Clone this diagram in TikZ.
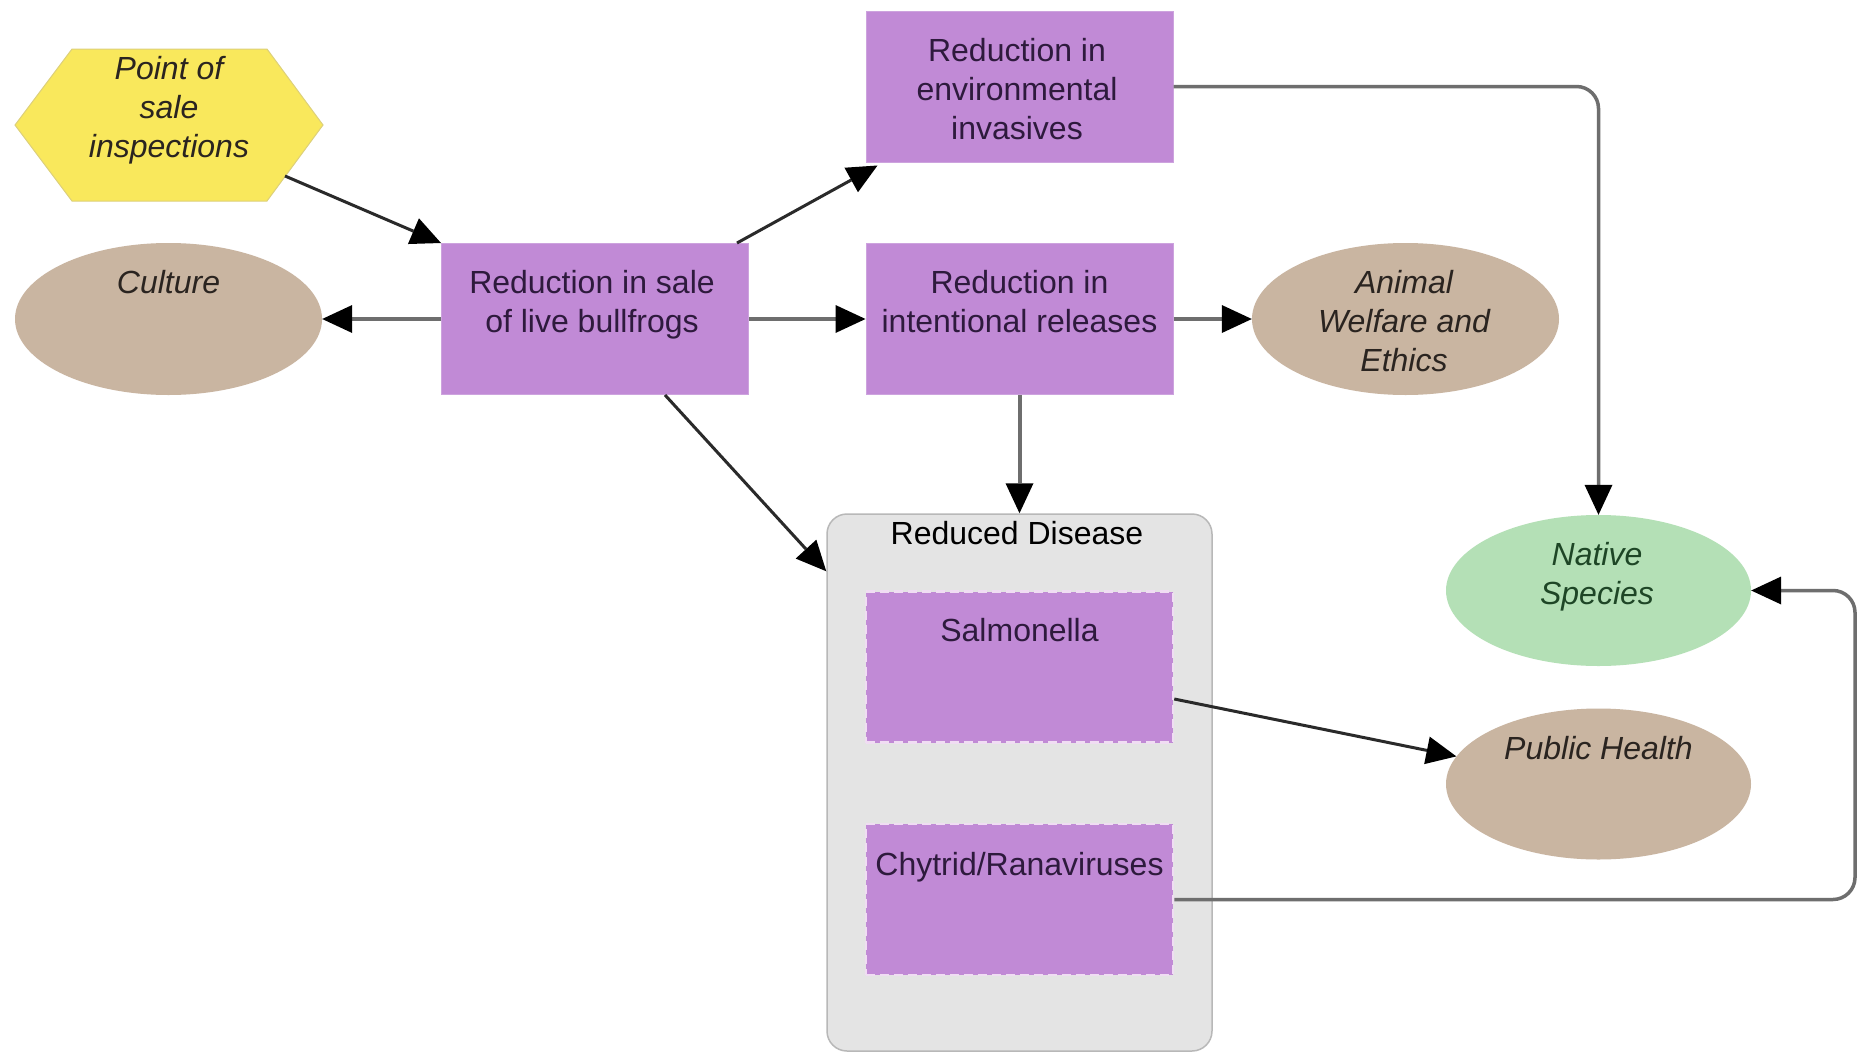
\documentclass[tikz,border=0pt]{standalone}
\usepackage{fontspec}
\setmainfont{Liberation Sans}
\usetikzlibrary{shapes.geometric,arrows.meta,calc}
\definecolor{boxpurple}{HTML}{C18AD6}
\definecolor{boxborder}{HTML}{CDA3DE}
\definecolor{dashborder}{HTML}{F0DDF3}
\definecolor{hexyellow}{HTML}{F9E85C}
\definecolor{hexborder}{HTML}{DDD07A}
\definecolor{tan}{HTML}{C9B5A1}
\definecolor{mint}{HTML}{B4E0B6}
\definecolor{contfill}{HTML}{E4E4E4}
\definecolor{contborder}{HTML}{B8B8B8}
\definecolor{edgegray}{HTML}{6E6E6E}
\definecolor{edgedark}{HTML}{2A2A2A}
\definecolor{purptext}{HTML}{2E1A3D}
\definecolor{greentext}{HTML}{1E4626}
\definecolor{darktext}{HTML}{2A2420}
\begin{document}
\begin{tikzpicture}[x=1pt,y=-1pt,
  pbox/.style={rectangle, fill=boxpurple, draw=boxborder, line width=1pt, minimum width=307pt, minimum height=151pt, inner sep=0pt},
  dbox/.style={rectangle, fill=boxpurple, draw=dashborder, dash pattern=on 9pt off 5pt, line width=2.5pt, minimum width=307pt, minimum height=151pt, inner sep=0pt},
  oval/.style={ellipse, minimum width=307pt, minimum height=152pt, inner sep=0pt},
  lbl/.style={anchor=north, align=center, inner sep=0pt, font=\fontsize{32}{39}\selectfont},
  ilbl/.style={lbl, font=\fontsize{32}{39}\selectfont\itshape},
  edge/.style={draw=edgegray, line width=4pt, -{Triangle[length=30pt,width=28pt,fill=black,line width=0pt]}},
  dedge/.style={edge, draw=edgedark, line width=3pt},
]
\useasboundingbox[fill=white] (0,0) rectangle (1858,1052);

% container
\node[rectangle, rounded corners=20pt, fill=contfill, draw=contborder, line width=1.5pt,
      minimum width=385pt, minimum height=537pt, inner sep=0pt] (cont) at (1019.5,782.5) {};

% hexagon
\filldraw[fill=hexyellow, draw=hexborder, line width=1pt]
  (15,125) -- (72,49) -- (267,49) -- (323,125) -- (267,201) -- (72,201) -- cycle;
\node[ilbl, text=darktext] (hex) at (169,56) {Point of\\sale\\inspections};
\coordinate (hexout) at (285,176);

% shapes
\node[oval, fill=tan] (culture) at (168.5,319) {};
\node[pbox] (sale) at (595,319) {};
\node[pbox] (env) at (1019.5,86.5) {};
\node[pbox] (intent) at (1019.5,319) {};
\node[oval, fill=tan] (animal) at (1405.5,319) {};
\node[oval, fill=mint, minimum width=305pt, minimum height=151pt] (native) at (1598.5,590.5) {};
\node[oval, fill=tan, minimum width=305pt, minimum height=151pt] (ph) at (1598.5,784) {};
\node[dbox] (sal) at (1019.5,667) {};
\node[dbox] (chy) at (1019.5,899.5) {};

% labels
\node[ilbl, text=darktext] (culturet) at (168.5,270) {Culture};
\node[lbl, text=purptext] (salet) at (592,270) {Reduction in sale\\of live bullfrogs};
\node[lbl, text=purptext] (envt) at (1017,38) {Reduction in\\environmental\\invasives};
\node[lbl, text=purptext] (intentt) at (1019.5,270) {Reduction in\\intentional releases};
\node[ilbl, text=darktext] (animalt) at (1404,270) {Animal\\Welfare and\\Ethics};
\node[ilbl, text=greentext] (nativet) at (1597,542) {Native\\Species};
\node[ilbl, text=darktext] (pht) at (1598.5,736) {Public Health};
\node[lbl, text=black] (contt) at (1017,521.5) {Reduced Disease};
\node[lbl, text=purptext] (salt) at (1019.5,618) {Salmonella};
\node[lbl, text=purptext] (chyt) at (1019.5,852) {Chytrid/Ranaviruses};

% connectors
\coordinate (cright) at (1855,0);
\draw[dedge] (hexout) -- (sale.north west);
\draw[edge] (sale.west) -- (culture.east);
\draw[edge] (sale.east) -- (intent.west);
\draw[dedge] ([xshift=142pt]sale.north) -- ([xshift=12pt,yshift=-3pt]env.south west);
\draw[edge] (intent.east) -- (animal.west);
\draw[edge] (intent.south) -- (cont.north);
\draw[dedge] ([xshift=70pt]sale.south) -- ([yshift=-58pt]cont.north west);
\draw[edge, line width=3.5pt, rounded corners=22pt] (env.east) -| (native.north);
\draw[dedge] ([yshift=-32pt]sal.east) -- (ph.169);
\draw[edge, line width=3.5pt, rounded corners=22pt] (chy.east) -- (chy.east -| cright) -- (native.east -| cright) -- (native.east);
\end{tikzpicture}
\end{document}
